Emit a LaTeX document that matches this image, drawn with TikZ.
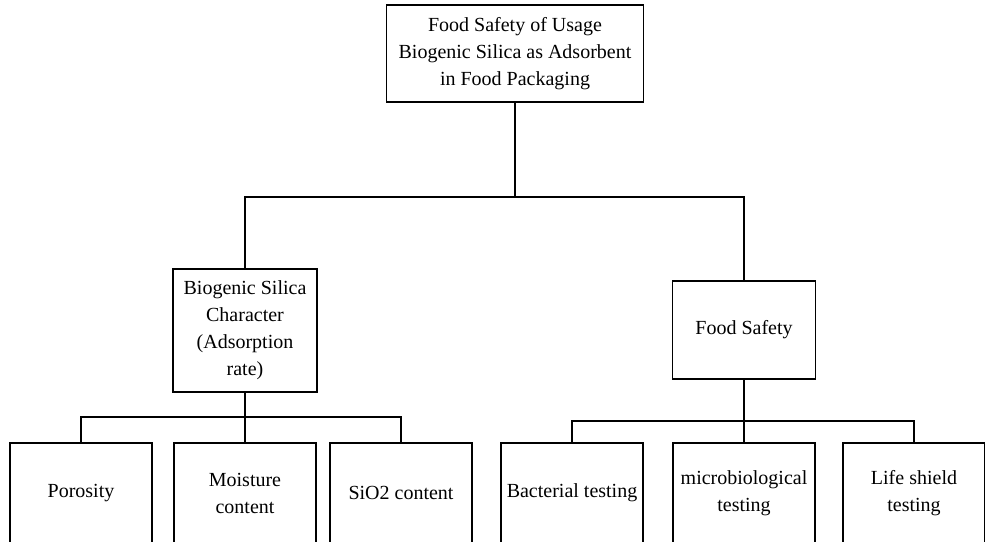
\documentclass[tikz,border=0pt]{standalone}
\usepackage{fontspec}
\setmainfont{Liberation Serif}

\begin{document}
\begin{tikzpicture}[x=1pt, y=-1pt,
  box/.style={draw, line width=1.8pt, align=center, inner sep=0pt, font=\fontsize{20}{27}\selectfont},
  leaf/.style={box, minimum width=142pt, minimum height=100pt},
  ln/.style={line width=1.8pt}
]
\useasboundingbox (0,0) rectangle (985,541);
\clip (0,0) rectangle (985,541);
\node[box, minimum width=257pt, minimum height=97pt] (top) at (515,53.5) {Food Safety of Usage\\Biogenic Silica as Adsorbent\\in Food Packaging};
\node[box, minimum width=144pt, minimum height=123pt] (ch) at (245,330.5) {Biogenic Silica\\Character\\(Adsorption\\rate)};
\node[box, minimum width=143pt, minimum height=98pt] (fs) at (744,330) {Food Safety};

\node[leaf] (por) at (81,493) {Porosity};
\node[leaf] (mc) at (245,493) {Moisture\\content};
\node[leaf] (sio) at (401,493) {SiO2 content};
\node[leaf] (bt) at (572,493) {Bacterial testing};
\node[leaf] (mt) at (744,493) {microbiological\\testing};
\node[leaf] (ls) at (914,493) {Life shield\\testing};

\coordinate (jt) at (515,197);
\coordinate (jl) at (245,417);
\coordinate (jr) at (744,421);

\draw[ln] (top) -- (jt);
\draw[ln] (ch) |- (jt) -| (fs);
\draw[ln] (ch) -- (mc);
\draw[ln] (por) |- (jl) -| (sio);
\draw[ln] (fs) -- (mt);
\draw[ln] (bt) |- (jr) -| (ls);
\end{tikzpicture}
\end{document}
